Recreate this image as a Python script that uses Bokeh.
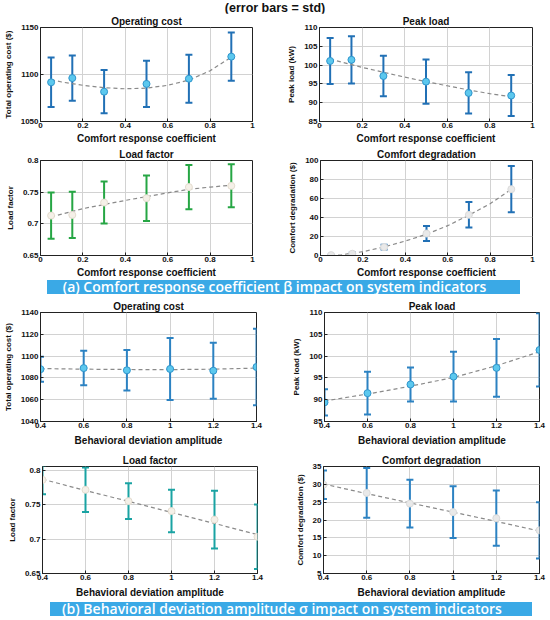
from bokeh.plotting import figure
from bokeh.layouts import column, row
from bokeh.models import Div, FixedTicker, Range1d
from bokeh.embed import file_html
from bokeh.resources import INLINE

# ---------------- data: (a) comfort response coefficient ----------------
beta = [0.05, 0.15, 0.3, 0.5, 0.7, 0.9]
a_cost_mean = [1091.7, 1096.2, 1081.7, 1090.0, 1095.5, 1119.0]
a_cost_std = [26.3, 24.0, 23.0, 24.5, 25.5, 25.7]
a_cost_fit_x = [0.05, 0.1, 0.2, 0.3, 0.4, 0.5, 0.6, 0.7, 0.8, 0.9]
a_cost_fit_y = [1094.5, 1092.0, 1088.5, 1086.0, 1084.8, 1085.5, 1088.5, 1094.0, 1104.0, 1118.5]

a_peak_mean = [101.1, 101.4, 97.1, 95.6, 92.6, 91.9]
a_peak_std = [6.1, 6.3, 5.4, 5.9, 5.5, 5.45]
a_peak_fit_x = [0.05, 0.2, 0.3, 0.4, 0.5, 0.6, 0.7, 0.8, 0.9]
a_peak_fit_y = [101.6, 99.4, 98.1, 96.8, 95.6, 94.5, 93.4, 92.4, 91.6]

a_lf_mean = [0.7130, 0.7140, 0.7336, 0.7405, 0.7580, 0.7600]
a_lf_std = [0.0365, 0.0365, 0.0332, 0.0360, 0.0350, 0.0340]
a_lf_fit_x = [0.05, 0.2, 0.3, 0.4, 0.5, 0.6, 0.7, 0.8, 0.9]
a_lf_fit_y = [0.711, 0.724, 0.7305, 0.737, 0.743, 0.749, 0.7545, 0.758, 0.761]

a_cd_mean = [0.4, 1.9, 8.8, 23.1, 42.8, 69.8]
a_cd_std = [0.4, 1.2, 2.6, 7.9, 13.4, 24.3]
a_cd_fit_x = [0.05, 0.1, 0.2, 0.3, 0.4, 0.5, 0.6, 0.7, 0.8, 0.9]
a_cd_fit_y = [0.0, 0.8, 4.0, 9.0, 15.2, 22.4, 31.4, 42.4, 54.5, 69.7]

# ---------------- data: (b) behavioral deviation amplitude ----------------
sigma = [0.4, 0.6, 0.8, 1, 1.2, 1.4]
b_cost_mean = [1088.0, 1089.0, 1087.0, 1088.2, 1086.6, 1090.0]
b_cost_std = [11.5, 15.8, 18.6, 28.5, 25.7, 35.0]
b_cost_fit = [1088.6, 1088.0, 1087.7, 1087.6, 1088.0, 1089.0]

b_peak_mean = [89.4, 91.5, 93.5, 95.3, 97.3, 101.4]
b_peak_std = [3.0, 4.9, 3.9, 5.7, 6.65, 8.4]
b_peak_fit = [89.7, 91.3, 93.1, 95.1, 97.8, 101.0]

b_lf_mean = [0.7865, 0.7720, 0.7555, 0.7410, 0.7285, 0.7035]
b_lf_std = [0.021, 0.0325, 0.026, 0.031, 0.042, 0.047]
b_lf_fit = [0.7875, 0.7710, 0.7552, 0.7390, 0.7230, 0.7067]

b_cd_mean = [29.9, 27.6, 24.6, 22.2, 20.5, 17.1]
b_cd_std = [4.0, 7.0, 6.7, 7.25, 7.75, 7.9]
b_cd_fit = [30.1, 27.4, 24.8, 22.2, 19.6, 16.9]

# ---------------- tick labels ----------------
xt_a = [0, 0.2, 0.4, 0.6, 0.8, 1]
xt_a_lab = ["0", "0.2", "0.4", "0.6", "0.8", "1"]
xt_b = [0.4, 0.6, 0.8, 1, 1.2, 1.4]
xt_b_lab = ["0.4", "0.6", "0.8", "1", "1.2", "1.4"]
yt_cost_a = [1050, 1100, 1150]
yt_peak = [85, 90, 95, 100, 105, 110]
yt_lf = [0.65, 0.7, 0.75, 0.8]
yt_lf_lab = ["0.65", "0.7", "0.75", "0.8"]
yt_cd_a = [0, 20, 40, 60, 80, 100]
yt_cost_b = [1040, 1060, 1080, 1100, 1120, 1140]
yt_cd_b = [5, 10, 15, 20, 25, 30, 35]

FONT = "Liberation Sans"


def panel(w, h, xr, yr, title, xlabel, ylabel, borders, xt, xtl, yt, ytl=None, xstand=2):
    bl, br, bt, bb = borders
    p = figure(width=w, height=h, x_range=Range1d(*xr), y_range=Range1d(*yr),
               output_backend="svg", toolbar_location=None,
               min_border_left=bl, min_border_right=br,
               min_border_top=bt, min_border_bottom=bb)
    p.title.text = title
    p.title.align = "center"
    p.title.text_font = FONT
    p.title.text_font_size = "10px"
    p.title.text_font_style = "bold"
    p.title.text_color = "#111111"
    p.title.standoff = 1
    p.title.offset = 0
    p.outline_line_color = "#222222"
    p.outline_line_width = 1
    p.background_fill_color = "white"
    for ax in (p.xaxis, p.yaxis):
        ax.axis_line_color = "#222222"
        ax.major_tick_line_color = "#222222"
        ax.major_tick_in = 3
        ax.major_tick_out = 0
        ax.minor_tick_line_color = None
        ax.major_label_text_font = FONT
        ax.major_label_text_font_size = "8px"
        ax.major_label_text_font_style = "bold"
        ax.major_label_text_color = "#111111"
        ax.axis_label_text_font = FONT
        ax.axis_label_text_font_style = "bold"
        ax.axis_label_text_color = "#111111"
    p.xaxis.major_label_standoff = 1
    p.yaxis.major_label_standoff = 2
    p.xaxis.axis_label_standoff = xstand
    p.yaxis.axis_label_standoff = 5
    p.xaxis.axis_label = xlabel
    p.yaxis.axis_label = ylabel
    p.xaxis.axis_label_text_font_size = "10px"
    p.yaxis.axis_label_text_font_size = "8px"
    p.xaxis.ticker = FixedTicker(ticks=xt)
    p.xaxis.major_label_overrides = dict(zip(xt, xtl))
    p.yaxis.ticker = FixedTicker(ticks=yt)
    if ytl is not None:
        p.yaxis.major_label_overrides = dict(zip(yt, ytl))
    p.xgrid.ticker = FixedTicker(ticks=xt)
    p.ygrid.ticker = FixedTicker(ticks=yt)
    p.grid.grid_line_color = "#d2d2d2"
    p.grid.grid_line_width = 1
    return p


def draw(p, x, mean, std, fx, fy, bar_color, fill, edge):
    lo = [m - s for m, s in zip(mean, std)]
    hi = [m + s for m, s in zip(mean, std)]
    p.segment(x0=x, y0=lo, x1=x, y1=hi, line_color=bar_color, line_width=2)
    p.scatter(x=x + x, y=lo + hi, marker="dash", size=7, line_color=bar_color, line_width=2)
    p.line(fx, fy, line_color="#8a8a8a", line_dash="4 3", line_width=1.2)
    p.scatter(x=x, y=mean, size=7, fill_color=fill, line_color=edge, line_width=1)


W = 275
BLUE_A = "#2170b5"
BLUE_B = "#2c82c2"
CYAN = "#5cc8ee"
CYAN_E = "#2f95cc"
PALE = "#f5f0e8"
PALE_E = "#e4dccf"
GREY = "#e9e9e9"
GREY_E = "#dadada"

lab_a = "Comfort response coefficient"
lab_b = "Behavioral deviation amplitude"

p1 = panel(W, 133, (0, 1), (1050, 1150), "Operating cost", lab_a, "Total operating cost ($)",
           (40, 23, 6, 25), xt_a, xt_a_lab, yt_cost_a)
draw(p1, beta, a_cost_mean, a_cost_std, a_cost_fit_x, a_cost_fit_y, BLUE_A, CYAN, CYAN_E)

p2 = panel(W, 133, (0, 1), (85, 110), "Peak load", lab_a, "Peak load (kW)",
           (44, 18, 6, 25), xt_a, xt_a_lab, yt_peak)
draw(p2, beta, a_peak_mean, a_peak_std, a_peak_fit_x, a_peak_fit_y, BLUE_A, CYAN, CYAN_E)

p3 = panel(W, 134, (0, 1), (0.65, 0.8), "Load factor", lab_a, "Load factor",
           (40, 23, 6, 23), xt_a, xt_a_lab, yt_lf, yt_lf_lab)
draw(p3, beta, a_lf_mean, a_lf_std, a_lf_fit_x, a_lf_fit_y, "#26a644", PALE, PALE_E)

p4 = panel(W, 134, (0, 1), (0, 100), "Comfort degradation", lab_a, "Comfort degradation ($)",
           (45, 18, 6, 23), xt_a, xt_a_lab, yt_cd_a)
draw(p4, beta, a_cd_mean, a_cd_std, a_cd_fit_x, a_cd_fit_y, BLUE_A, GREY, GREY_E)

p5 = panel(W, 154, (0.4, 1.4), (1040, 1140), "Operating cost", lab_b, "Total operating cost ($)",
           (40, 19, 6, 31), xt_b, xt_b_lab, yt_cost_b, xstand=4)
draw(p5, sigma, b_cost_mean, b_cost_std, sigma, b_cost_fit, BLUE_B, CYAN, CYAN_E)

p6 = panel(W, 154, (0.4, 1.4), (85, 110), "Peak load", lab_b, "Peak load (kW)",
           (49, 11, 6, 31), xt_b, xt_b_lab, yt_peak, xstand=4)
draw(p6, sigma, b_peak_mean, b_peak_std, sigma, b_peak_fit, BLUE_B, CYAN, CYAN_E)

p7 = panel(W, 148, (0.4, 1.4), (0.65, 0.806), "Load factor", lab_b, "Load factor",
           (42, 18, 4, 27), xt_b, xt_b_lab, yt_lf, yt_lf_lab, xstand=4)
draw(p7, sigma, b_lf_mean, b_lf_std, sigma, b_lf_fit, "#1aa3a3", PALE, PALE_E)

p8 = panel(W, 148, (0.4, 1.4), (5, 35), "Comfort degradation", lab_b, "Comfort degradation ($)",
           (48, 11, 4, 27), xt_b, xt_b_lab, yt_cd_b, xstand=4)
draw(p8, sigma, b_cd_mean, b_cd_std, sigma, b_cd_fit, BLUE_B, GREY, GREY_E)

top_html = ('<div style="width:550px;height:13px;font-family:\'Liberation Sans\';font-weight:bold;'
            'font-size:12.5px;line-height:14px;text-align:center;color:#111111;">'
            '(error bars = std)</div>')
top = Div(text=top_html, width=550, height=13, margin=(0, 0, 0, 0))


def banner(text, left, width, h, mtop):
    html = ('<div style="margin-left:%dpx;margin-top:%dpx;width:%dpx;height:14px;'
            'background:#3aa9e6;color:white;font-family:\'Open Sans\';font-weight:600;'
            'font-size:14px;line-height:14px;text-align:center;white-space:nowrap;'
            'padding-right:18px;box-sizing:border-box;">%s</div>'
            % (left, mtop, width, text))
    return Div(text=html, width=550, height=h, margin=(0, 0, 0, 0))


ban_a = banner("(a) Comfort response coefficient β impact on system indicators", 47, 473, 18, 0)
ban_b = banner("(b) Behavioral deviation amplitude σ impact on system indicators", 50, 482, 18, 2)

layout = column(top, row(p1, p2), row(p3, p4), ban_a, row(p5, p6), row(p7, p8), ban_b,
                spacing=0)

open("out.html", "w").write(file_html(layout, INLINE))
